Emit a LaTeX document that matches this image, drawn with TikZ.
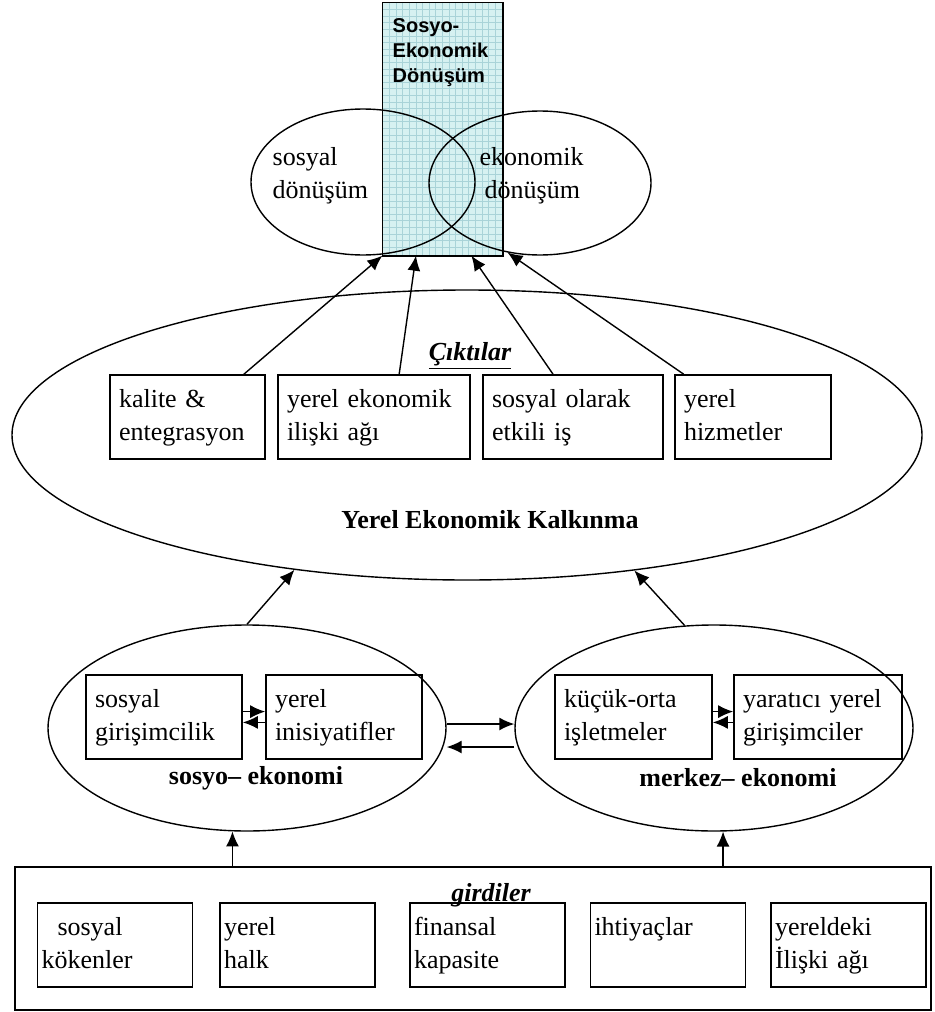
\documentclass[tikz,border=0pt]{standalone}
\usepackage{fontspec}
\setmainfont{Liberation Serif}
\setsansfont{Liberation Sans}
\usetikzlibrary{arrows.meta}
\usetikzlibrary{calc}
\usetikzlibrary{shapes.geometric}
\definecolor{gridfill}{HTML}{D6F1F1}
\definecolor{gridline}{HTML}{A9D3D8}

\begin{document}
\begin{tikzpicture}[x=.5pt, y=-.5pt, line width=.7pt, >={Latex[length=7.5pt, width=6.5pt]},
  txt/.style={font=\fontsize{13}{16.5}\selectfont},
  kalin/.style={font=\fontsize{13}{16.5}\selectfont\bfseries},
  kutu/.style={draw, line width=.8pt, txt, align=left, inner xsep=4.5pt, inner ysep=0pt, minimum height=42pt,
    execute at begin node=\strut, execute at end node=\strut},
  elips/.style={draw, ellipse, inner sep=0pt},
  ok/.style={->, line width=.7pt}]
\useasboundingbox (0,0) rectangle (934,1012);

% sosyo-ekonomik donusum
\node[fill=gridfill, minimum width=59.5pt, minimum height=126pt, inner sep=0pt] (sed) at (442.5,129) {};
\foreach \gx in {389.6,396.2,...,500} \draw[gridline, line width=.4pt] (\gx,3) -- (\gx,255);
\foreach \gy in {9.6,16.2,...,253} \draw[gridline, line width=.4pt] (383,\gy) -- (502,\gy);
\draw[line width=.8pt] (sed.south west) rectangle (sed.north east);
\node[anchor=north west, inner sep=0pt, align=left, font=\sffamily\bfseries\fontsize{10}{12.5}\selectfont] (sedt) at (392,18) {Sosyo-\\Ekonomik\\Dönüşüm};

\node[elips, minimum width=112pt, minimum height=73pt] (sd) at (363,182) {};
\node[elips, minimum width=111pt, minimum height=72pt] (ed) at (540,183) {};
\node[txt, anchor=west, align=left, inner sep=0pt] (sdt) at (272,176) {sosyal\\dönüşüm};
\node[txt, anchor=west, align=left, inner sep=0pt] (edt) at (479,176) {ekonomik\\\hspace*{2.5pt}dönüşüm};

% yerel ekonomik kalkinma
\node[elips, minimum width=455pt, minimum height=145pt] (yek) at (467,435) {};
\node[font=\fontsize{13}{16.5}\selectfont\bfseries\itshape, inner sep=0pt] (cik) at (470,356) {\underline{Çıktılar}};
\foreach \n/\x/\w/\t in {k1/187.5/155/{kalite \&\\entegrasyon}, k2/374/192/{yerel ekonomik\\ilişki ağı}, k3/573/180/{sosyal olarak\\etkili iş}, k4/753/156/{yerel\\hizmetler}}{
  \pgfmathsetmacro\tw{\w/2-9}
  \node[kutu, text width=\tw pt] (\n) at (\x,417) {\t};
}
\node[kalin] (yekt) at (490,520) {Yerel Ekonomik Kalkınma};

\draw[ok] ($(k1.north west)!.86!(k1.north east)$) -- (sed.south west);
\draw[ok] ($(k2.north west)!.63!(k2.north east)$) -- ($(sed.south west)!.28!(sed.south east)$);
\draw[ok] ($(k3.north west)!.39!(k3.north east)$) -- ($(sed.south west)!.74!(sed.south east)$);
\draw[ok] ($(k4.north west)!.06!(k4.north east)$) -- (ed.245);

% sosyo-ekonomi / merkez-ekonomi
\node[elips, minimum width=199pt, minimum height=103pt] (se) at (247,728) {};
\node[elips, minimum width=199pt, minimum height=103pt] (me) at (714,728) {};
\foreach \n/\x/\w/\t in {s1/164/156/{sosyal\\girişimcilik}, s2/344/156/{yerel\\inisiyatifler}, m1/633.5/157/{küçük-orta\\işletmeler}, m2/818/168/{yaratıcı yerel\\girişimciler}}{
  \pgfmathsetmacro\tw{\w/2-9}
  \node[kutu, text width=\tw pt] (\n) at (\x,717) {\t};
}
\node[kalin] (set) at (256,778) {sosyo-- ekonomi};
\node[kalin] (met) at (738,778) {merkez-- ekonomi};

\draw[ok] ([yshift=2.7pt]s1.east) -- ([yshift=2.7pt]s2.west);
\draw[ok] ([yshift=-2.7pt]s2.west) -- ([yshift=-2.7pt]s1.east);
\draw[ok] ([yshift=2.7pt]m1.east) -- ([yshift=2.7pt]m2.west);
\draw[ok] ([yshift=-2.7pt]m2.west) -- ([yshift=-2.7pt]m1.east);
\draw[ok] ([yshift=2pt]se.east) -- ([yshift=2pt]me.west);
\draw[ok] ([yshift=-9.5pt]me.west) -- ([yshift=-9.5pt]se.east);

\draw[ok] (se.north) -- (yek.218);
\draw[ok] (me.106) -- (yek.321);

% girdiler
\node[draw, line width=.8pt, minimum width=458pt, minimum height=71.5pt, inner sep=0pt] (gir) at (473,938.5) {};
\node[font=\fontsize{13}{16.5}\selectfont\bfseries\itshape, inner sep=0pt] (girt) at (491,895) {girdiler};
\foreach \n/\x/\t in {g1/115/{\hspace*{8pt}sosyal\\kökenler}, g2/297.5/{yerel\\halk}, g3/487.5/{finansal\\kapasite}, g4/668/{ihtiyaçlar\\\mbox{}}, g5/848.5/{yereldeki\\İlişki ağı}}{
  \node[kutu, inner xsep=2pt, text width=73.5pt] (\n) at (\x,945) {\t};
}

\draw[ok] (se.262 |- gir.north) -- (se.262);
\draw[ok] (me.275 |- gir.north) -- (me.275);
\end{tikzpicture}
\end{document}
